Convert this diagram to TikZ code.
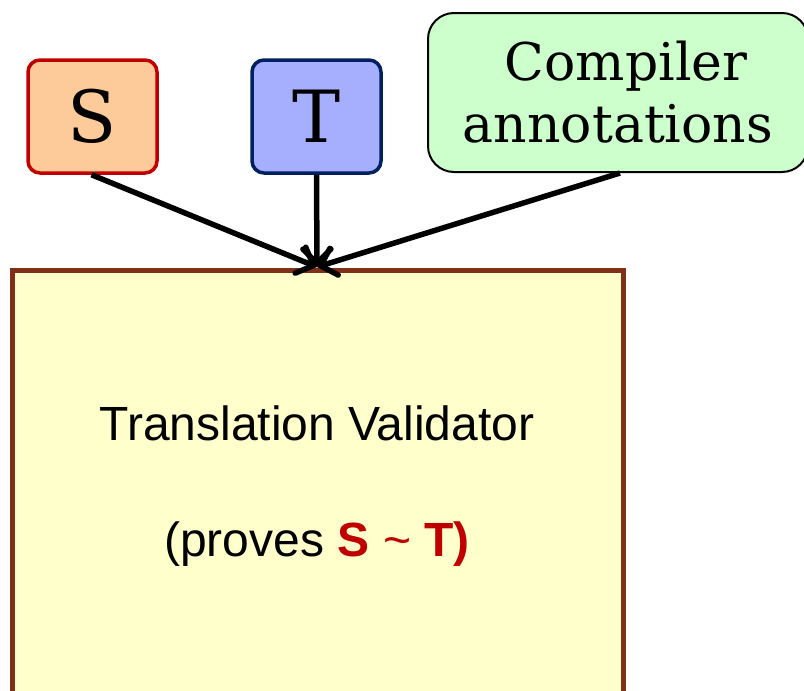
\documentclass[tikz,border=0pt]{standalone}
\usepackage{fontspec}
\setmainfont{DejaVu Serif}
\newfontfamily\arialfont{Liberation Sans}
\usetikzlibrary{arrows.meta,positioning}
\definecolor{srcfill}{HTML}{FDCB9A}
\definecolor{srcdraw}{HTML}{C00000}
\definecolor{tgtfill}{HTML}{A5AFFE}
\definecolor{tgtdraw}{HTML}{002060}
\definecolor{annfill}{HTML}{CCFFCC}
\definecolor{valfill}{HTML}{FFFFCC}
\definecolor{valdraw}{HTML}{7F3017}
\definecolor{hilite}{HTML}{C00000}
\tikzset{
  inbox/.style={rounded corners=12pt, line width=3.5pt, inner sep=0pt, font=\fontsize{72}{76}\selectfont},
  feed/.style={line width=5.5pt, -{Straight Barb[length=14pt,width=28pt,line width=5.5pt,line cap=round]}},
}
\begin{document}
\begin{tikzpicture}[x=1pt,y=-1pt]
\useasboundingbox (0,0) rectangle (804,691);
% validator box (runs off the bottom edge)
\node[draw=valdraw, fill=valfill, line width=4.5pt, minimum width=611pt, minimum height=460pt, anchor=north west, inner sep=0pt] (val) at (10,268) {};
\node[font=\arialfont\fontsize{48}{54}\selectfont, anchor=base] (vtitle) at (317,440) {Translation Validator};
\node[font=\arialfont\fontsize{48}{54}\selectfont, anchor=base] (vproof) at (317,556) {(proves \textcolor{hilite}{\textbf{S} \textasciitilde{} \textbf{T)}}};
% inputs
\node[inbox, draw=srcdraw, fill=srcfill, minimum width=129pt, minimum height=113pt] (s) at (92.5,116.5) {S};
\node[inbox, draw=tgtdraw, fill=tgtfill, minimum width=129pt, minimum height=113pt] (t) at (316.5,116.5) {T};
\node[draw=black, fill=annfill, line width=2pt, rounded corners=26pt, minimum width=380pt, minimum height=159pt, inner sep=0pt, align=center, font=\fontsize{52}{62}\selectfont] (ann) at (618,92.5) {\hspace*{16pt}\raisebox{-3pt}{Compiler}\\\raisebox{-3pt}{annotations}};
% connectors
\coordinate (join) at (317,267);
\draw[feed] ([xshift=-1pt]s.south) -- (join);
\draw[feed] (t.south) -- (join);
\draw[feed] ([xshift=2pt]ann.south) -- (join);
\end{tikzpicture}
\end{document}
